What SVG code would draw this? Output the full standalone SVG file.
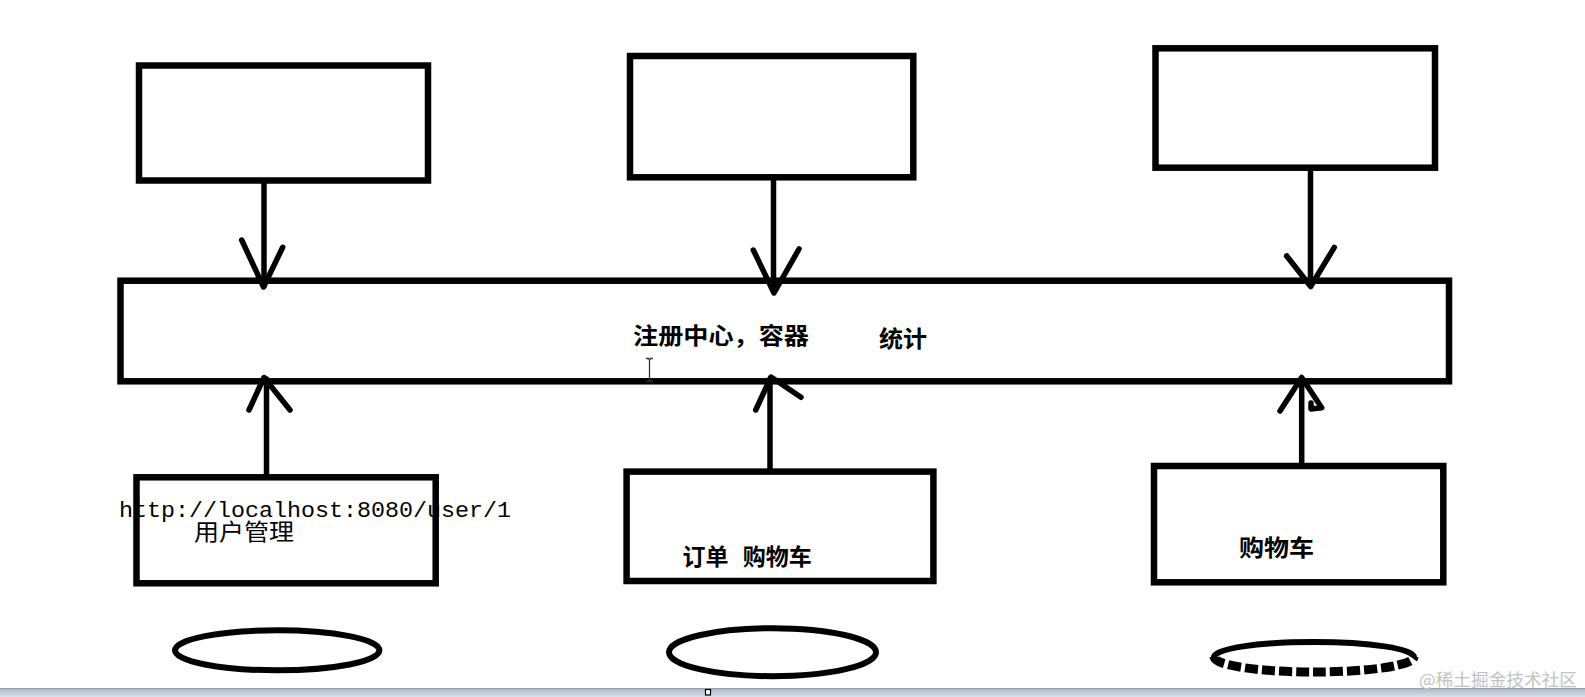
<svg xmlns="http://www.w3.org/2000/svg" width="1585" height="697" viewBox="0 0 1585 697">
  <defs>
    <linearGradient id="bar" x1="0" y1="0" x2="0" y2="1">
      <stop offset="0" stop-color="#8c98a4"/>
      <stop offset="0.2" stop-color="#b4bfcb"/>
      <stop offset="1" stop-color="#d9e1ea"/>
    </linearGradient>
    <style>
      .box { fill: #ffffff; stroke: #000000; stroke-width: 6.5; }
      .ell { fill: none; stroke: #000000; stroke-width: 6; }
      .line { fill: none; stroke: #000000; stroke-width: 5.5; stroke-linecap: round; }
      .head { fill: none; stroke: #000000; stroke-width: 5.5; stroke-linecap: round; stroke-linejoin: round; }
      .cjk { font-family: "Noto Sans CJK SC", "Noto Sans", sans-serif; font-size: 23px; fill: #000000; }
      .bold { font-weight: bold; }
      .url { font-family: "Liberation Mono", "DejaVu Sans Mono", monospace; font-size: 22px; fill: #000000; }
      .wm { font-family: "Noto Sans CJK SC", "Noto Sans", sans-serif; font-size: 17px; fill: #c2c2c2; }
    </style>
  </defs>
  <rect x="0" y="0" width="1585" height="697" fill="#ffffff"/>

  <g id="top-box-1"><rect class="box" x="139" y="65.5" width="289" height="115"/></g>
  <g id="top-box-2"><rect class="box" x="630" y="56" width="283.3" height="121.3"/></g>
  <g id="top-box-3"><rect class="box" x="1155.5" y="48.3" width="279.5" height="119.4"/></g>

  <g id="registry">
    <rect class="box" x="120.5" y="280.7" width="1328.5" height="100.6"/>
    <text class="cjk bold" x="633" y="344" textLength="176" lengthAdjust="spacingAndGlyphs">注册中心，容器</text>
    <text class="cjk bold" x="879" y="347" textLength="48" lengthAdjust="spacingAndGlyphs">统计</text>
    <path d="M649.5 359 V381 M646 358.5 H648.5 L649.5 360 L650.5 358.5 H653 M646 381.5 H648.5 L649.5 380 L650.5 381.5 H653" fill="none" stroke="#333333" stroke-width="1.3"/>
  </g>

  <g id="service-user">
    <rect class="box" x="136.5" y="477.3" width="299.2" height="106"/>
    <text class="url" x="119" y="516.5" textLength="392" lengthAdjust="spacingAndGlyphs">http://localhost:8080/user/1</text>
    <text class="cjk" x="194" y="539.5" textLength="100" lengthAdjust="spacingAndGlyphs">用户管理</text>
  </g>
  <g id="service-order">
    <rect class="box" x="626.6" y="471.6" width="306.8" height="109.4"/>
    <text class="cjk bold" x="682.5" y="565">订单<tspan dx="9"> 购物车</tspan></text>
  </g>
  <g id="service-cart">
    <rect class="box" x="1154" y="466" width="289.3" height="116.3"/>
    <text class="cjk bold" x="1239" y="556" textLength="75" lengthAdjust="spacingAndGlyphs">购物车</text>
  </g>

  <g id="db-1"><ellipse class="ell" cx="277.2" cy="650.3" rx="102.2" ry="20"/></g>
  <g id="db-2"><ellipse class="ell" cx="772.5" cy="652.2" rx="103.5" ry="24"/></g>
  <g id="db-3">
    <path class="ell" d="M1214 657 A100 15 0 0 1 1414 657"/>
    <path d="M1214 657 A100 15 0 0 0 1414 657" fill="none" stroke="#000000" stroke-width="9" stroke-dasharray="13 4"/>
  </g>

  <g id="connectors">
    <path class="line" d="M264 184 V286"/>
    <path class="head" d="M241.7 240 L263.5 287 L282.7 247.3"/>
    <path class="line" d="M773.5 177 V291"/>
    <path class="head" d="M753.3 250 L774 293 L799 249"/>
    <path class="line" d="M1310.5 168 V285"/>
    <path class="head" d="M1286.7 256 L1310.7 286.5 L1334.3 247.3"/>

    <path class="line" d="M266.5 474 V379"/>
    <path class="head" d="M249 410 L264 377.5 L290 410"/>
    <path class="line" d="M770 469 V379"/>
    <path class="head" d="M755.7 410 L771 377 L801 397.3"/>
    <path class="line" d="M1301.7 464 V379"/>
    <path class="head" d="M1280 411 L1301.7 377.5 L1321.7 407.7 L1311 409 L1311 403"/>
  </g>

  <rect x="0" y="688" width="1585" height="9" fill="url(#bar)"/>
  <rect x="705.5" y="689.5" width="5" height="5.5" fill="#ffffff" stroke="#000000" stroke-width="1.2"/>
  <text class="wm" x="1419" y="685.5" textLength="158" lengthAdjust="spacingAndGlyphs">@稀土掘金技术社区</text>
</svg>
